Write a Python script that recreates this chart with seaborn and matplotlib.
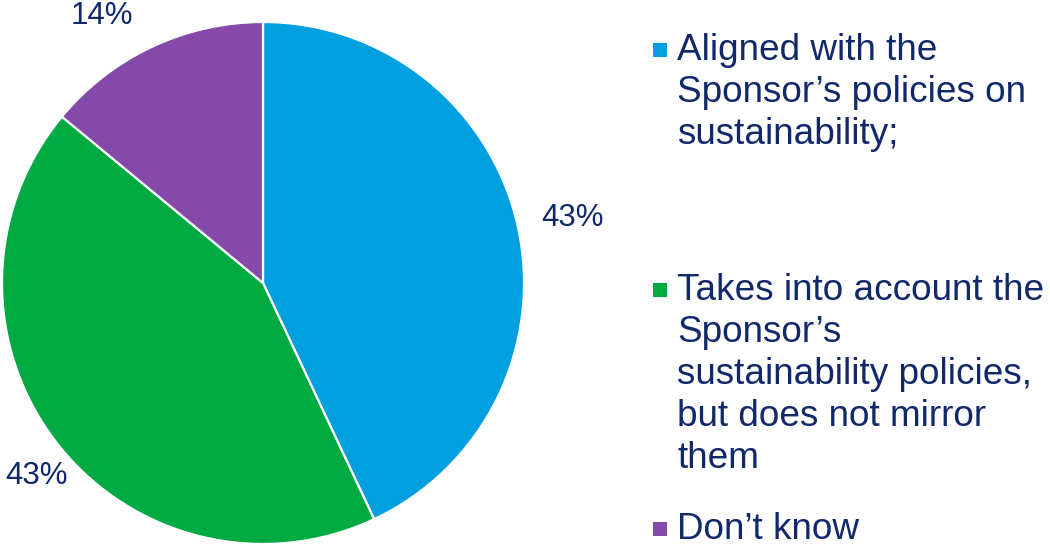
import matplotlib
matplotlib.use("Agg")
import matplotlib.pyplot as plt
import seaborn as sns

# Survey answers and their shares (%)
categories = [
    "Aligned with the\nSponsor\u2019s policies on\nsustainability;",
    "Takes into account the\nSponsor\u2019s\nsustainability policies,\nbut does not mirror\nthem",
    "Don\u2019t know",
]
shares = [43, 43, 14]
colors = ["#009FE0", "#00AA42", "#8549AA"]

TEXT = "#11286B"

sns.set_theme(style="white")
plt.rcParams["font.family"] = ["Liberation Sans", "DejaVu Sans"]

W, H = 1050, 545
fig = plt.figure(figsize=(W / 100, H / 100), dpi=100)
ax = fig.add_axes([0, 0, 1, 1])

cx, cy, r = 263, H - 283, 261
wedges, _ = ax.pie(
    shares,
    colors=colors,
    startangle=90,
    counterclock=False,
    center=(cx, cy),
    radius=r,
    wedgeprops=dict(edgecolor="white", linewidth=1.6),
)
ax.set_xlim(0, W)
ax.set_ylim(0, H)
ax.set_aspect("auto")
ax.axis("off")

# Percentage labels next to each slice
label_pos = [(573, 218), (36, 476), (102, 16)]
for val, (x, y) in zip(shares, label_pos):
    ax.text(x, H - y, f"{val}%", ha="center", va="center",
            fontsize=22.5, color=TEXT)

# Legend: square swatch and wrapped text for each answer
block_baselines = [60, 300, 539]
line_step = 42
for label, col, base in zip(categories, colors, block_baselines):
    ax.scatter([660], [H - (base - 10)], marker="s", s=88, color=col,
               linewidths=0, clip_on=False)
    for i, line in enumerate(label.split("\n")):
        ax.text(677, H - (base + i * line_step), line, ha="left",
                va="baseline", fontsize=26.6, color=TEXT)

fig.savefig("out.png", dpi=100)
